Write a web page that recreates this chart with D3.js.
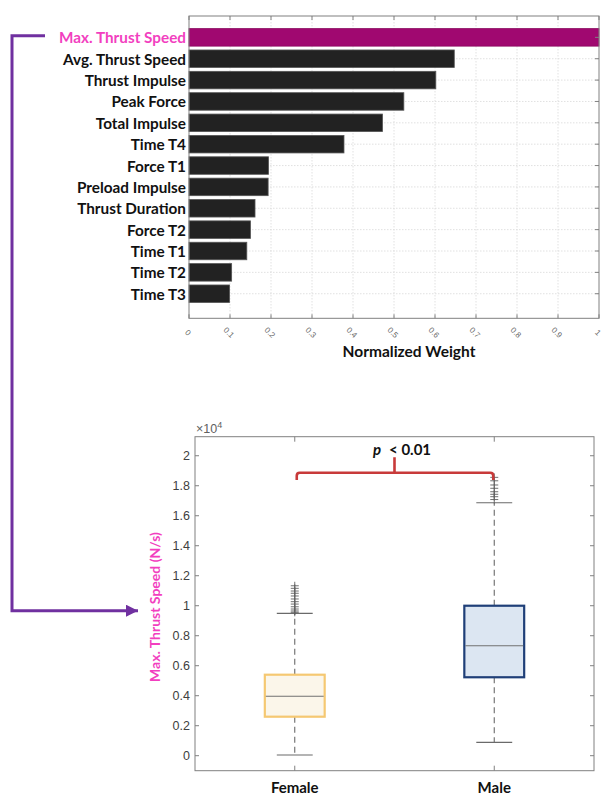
<!DOCTYPE html>
<html>
<head>
<meta charset="utf-8">
<script src="https://cdn.jsdelivr.net/npm/d3@7"></script>
<style>
  html, body { margin: 0; padding: 0; background: #fff; }
  svg { display: block; }
</style>
</head>
<body>
<svg id="chart" width="602" height="795"></svg>
<script>
// ---------- DATA ----------
const features = ["Max. Thrust Speed", "Avg. Thrust Speed", "Thrust Impulse", "Peak Force",
  "Total Impulse", "Time T4", "Force T1", "Preload Impulse", "Thrust Duration",
  "Force T2", "Time T1", "Time T2", "Time T3"];
const weights = [1.0, 0.647, 0.602, 0.524, 0.472, 0.378, 0.194, 0.193, 0.161, 0.150, 0.141, 0.104, 0.099];
const weightTicks = [0, 0.1, 0.2, 0.3, 0.4, 0.5, 0.6, 0.7, 0.8, 0.9, 1];
const weightTickLabels = ["0", "0.1", "0.2", "0.3", "0.4", "0.5", "0.6", "0.7", "0.8", "0.9", "1"];

const groups = ["Female", "Male"];
const whiskerLow = [0.005, 0.089];
const q1 = [0.26, 0.523];
const medians = [0.396, 0.733];
const q3 = [0.54, 1.0];
const whiskerHigh = [0.949, 1.687];
const femaleOutliers = [0.956, 0.965, 0.978, 0.993, 1.011, 1.027, 1.045, 1.065, 1.083, 1.098, 1.116, 1.133];
const maleOutliers = [1.708, 1.727, 1.743, 1.760, 1.783, 1.805, 1.833, 1.856];
const speedTicks = [0, 0.2, 0.4, 0.6, 0.8, 1, 1.2, 1.4, 1.6, 1.8, 2];
const speedTickLabels = ["0", "0.2", "0.4", "0.6", "0.8", "1", "1.2", "1.4", "1.6", "1.8", "2"];
const bracket = { level: 1.887, tip: 1.838, notch: 1.99 };

// ---------- SETUP ----------
const svg = d3.select("#chart");
const labelFont = "Lato, 'Open Sans', 'Noto Sans', sans-serif";
const axisFont = "'Liberation Sans', Arial, Helvetica, sans-serif";
const axisGray = "#808080";
const pink = "#f23fbf";
const purple = "#7030a0";

// ---------- TOP: horizontal bar chart ----------
const xW = d3.scaleLinear().domain([0, 1]).range([189, 599]);
const yPos = d3.scaleLinear().domain([-0.15, 14]).range([318.3, 16]);
const n = features.length;
const pos = i => n - i;
const barH = (yPos(0) - yPos(0.82));

const gTop = svg.append("g");
gTop.selectAll("line.vgrid").data(weightTicks.slice(1, -1)).join("line")
  .attr("x1", d => xW(d)).attr("x2", d => xW(d))
  .attr("y1", yPos(14)).attr("y2", yPos(-0.15))
  .attr("stroke", "#d9d9d9").attr("stroke-width", 0.8).attr("stroke-dasharray", "1.5,1.5");
gTop.selectAll("line.hgrid").data(features).join("line")
  .attr("x1", xW(0)).attr("x2", xW(1))
  .attr("y1", (d, i) => yPos(pos(i))).attr("y2", (d, i) => yPos(pos(i)))
  .attr("stroke", "#d9d9d9").attr("stroke-width", 0.8).attr("stroke-dasharray", "1.5,1.5");

gTop.selectAll("rect.bar").data(weights).join("rect")
  .attr("x", xW(0))
  .attr("y", (d, i) => yPos(pos(i)) - barH / 2)
  .attr("width", d => xW(d) - xW(0))
  .attr("height", barH)
  .attr("fill", (d, i) => i === 0 ? "#a00870" : "#222222")
  .attr("stroke", (d, i) => i === 0 ? "#8a0a60" : "#555")
  .attr("stroke-width", 0.8);

gTop.append("rect").attr("x", xW(0)).attr("y", yPos(14))
  .attr("width", xW(1) - xW(0)).attr("height", yPos(-0.15) - yPos(14))
  .attr("fill", "none").attr("stroke", axisGray).attr("stroke-width", 1);
gTop.selectAll("line.xtb").data(weightTicks).join("line")
  .attr("x1", d => xW(d)).attr("x2", d => xW(d))
  .attr("y1", yPos(-0.15)).attr("y2", yPos(-0.15) - 4)
  .attr("stroke", axisGray);
gTop.selectAll("line.xtt").data(weightTicks).join("line")
  .attr("x1", d => xW(d)).attr("x2", d => xW(d))
  .attr("y1", yPos(14)).attr("y2", yPos(14) + 4)
  .attr("stroke", axisGray);
gTop.selectAll("line.ytr").data(features).join("line")
  .attr("x1", xW(1)).attr("x2", xW(1) - 4)
  .attr("y1", (d, i) => yPos(pos(i))).attr("y2", (d, i) => yPos(pos(i)))
  .attr("stroke", axisGray);

gTop.selectAll("text.xtl").data(weightTicks).join("text")
  .attr("transform", d => `translate(${xW(d) - 1.5},${333}) rotate(45)`)
  .attr("text-anchor", "middle").attr("dominant-baseline", "middle")
  .attr("font-family", axisFont).attr("font-size", 8).attr("fill", "#666")
  .text((d, i) => weightTickLabels[i]);

gTop.selectAll("text.ylab").data(features).join("text")
  .attr("x", 186).attr("y", (d, i) => yPos(pos(i)))
  .attr("text-anchor", "end").attr("dominant-baseline", "central")
  .attr("font-family", labelFont).attr("font-weight", "bold").attr("font-size", 15.3)
  .attr("fill", (d, i) => i === 0 ? pink : "#111")
  .text(d => d);

gTop.append("text").attr("x", 409).attr("y", 357)
  .attr("text-anchor", "middle")
  .attr("font-family", labelFont).attr("font-weight", "bold").attr("font-size", 15.5)
  .attr("fill", "#111").text("Normalized Weight");

// ---------- BOTTOM: box plot ----------
const xG = d3.scaleLinear().domain([0.5, 2.5]).range([195, 594]);
const yS = d3.scaleLinear().domain([-0.1, 2.127]).range([770.7, 436.7]);
const boxW = xG(1.15) - xG(0.85);
const capW = xG(1.09) - xG(0.91);

const gBot = svg.append("g");
gBot.append("rect").attr("x", xG(0.5)).attr("y", yS(2.127))
  .attr("width", xG(2.5) - xG(0.5)).attr("height", yS(-0.1) - yS(2.127))
  .attr("fill", "none").attr("stroke", axisGray).attr("stroke-width", 1);

gBot.selectAll("line.ytl").data(speedTicks).join("line")
  .attr("x1", xG(0.5)).attr("x2", xG(0.5) + 4)
  .attr("y1", d => yS(d)).attr("y2", d => yS(d)).attr("stroke", axisGray);
gBot.selectAll("line.ytr").data(speedTicks).join("line")
  .attr("x1", xG(2.5)).attr("x2", xG(2.5) - 4)
  .attr("y1", d => yS(d)).attr("y2", d => yS(d)).attr("stroke", axisGray);
gBot.selectAll("line.xtb").data(groups).join("line")
  .attr("x1", (d, i) => xG(i + 1)).attr("x2", (d, i) => xG(i + 1))
  .attr("y1", yS(-0.1)).attr("y2", yS(-0.1) - 5).attr("stroke", axisGray);
gBot.selectAll("line.xtt").data(groups).join("line")
  .attr("x1", (d, i) => xG(i + 1)).attr("x2", (d, i) => xG(i + 1))
  .attr("y1", yS(2.127)).attr("y2", yS(2.127) + 5).attr("stroke", axisGray);

gBot.selectAll("text.ytl").data(speedTicks).join("text")
  .attr("x", 190).attr("y", d => yS(d))
  .attr("text-anchor", "end").attr("dominant-baseline", "central")
  .attr("font-family", axisFont).attr("font-size", 12.5).attr("fill", "#404040")
  .text((d, i) => speedTickLabels[i]);

const exp = gBot.append("text").attr("x", 196).attr("y", 433)
  .attr("font-family", axisFont).attr("font-size", 12.5).attr("fill", "#606060");
exp.append("tspan").text("\u00d710");
exp.append("tspan").attr("dy", -5).attr("font-size", 9).text("4");

groups.forEach((g, i) => {
  const cx = xG(i + 1);
  gBot.append("line").attr("x1", cx).attr("x2", cx)
    .attr("y1", yS(q3[i])).attr("y2", yS(whiskerHigh[i]))
    .attr("stroke", "#6a6a6a").attr("stroke-width", 1.1).attr("stroke-dasharray", "6,4");
  gBot.append("line").attr("x1", cx).attr("x2", cx)
    .attr("y1", yS(q1[i])).attr("y2", yS(whiskerLow[i]))
    .attr("stroke", "#6a6a6a").attr("stroke-width", 1.1).attr("stroke-dasharray", "6,4");
  [whiskerHigh[i], whiskerLow[i]].forEach(v => {
    gBot.append("line").attr("x1", cx - capW / 2).attr("x2", cx + capW / 2)
      .attr("y1", yS(v)).attr("y2", yS(v))
      .attr("stroke", "#6a6a6a").attr("stroke-width", 1.1);
  });
});

const boxFill = ["#fbf6ea", "#dce6f2"];
const boxStroke = ["#f5c872", "#1f3f78"];
gBot.selectAll("rect.box").data(groups).join("rect")
  .attr("x", (d, i) => xG(i + 1) - boxW / 2)
  .attr("y", (d, i) => yS(q3[i]))
  .attr("width", boxW)
  .attr("height", (d, i) => yS(q1[i]) - yS(q3[i]))
  .attr("fill", (d, i) => boxFill[i])
  .attr("stroke", (d, i) => boxStroke[i])
  .attr("stroke-width", 2.2);
gBot.selectAll("line.median").data(medians).join("line")
  .attr("x1", (d, i) => xG(i + 1) - boxW / 2 + 1).attr("x2", (d, i) => xG(i + 1) + boxW / 2 - 1)
  .attr("y1", d => yS(d)).attr("y2", d => yS(d))
  .attr("stroke", "#707070").attr("stroke-width", 1.1);

const outliers = [femaleOutliers, maleOutliers];
outliers.forEach((arr, i) => {
  const cx = xG(i + 1);
  arr.forEach(v => {
    const y = yS(v);
    gBot.append("path")
      .attr("d", `M${cx - 4},${y}H${cx + 4}M${cx},${y - 4}V${y + 4}`)
      .attr("stroke", "#606060").attr("stroke-width", 0.9).attr("fill", "none");
  });
});

const bl = xG(1) + 2, br = xG(2) - 1, bm = xG(1.5);
const r = 3;
gBot.append("path")
  .attr("d", `M${bl},${yS(bracket.tip)} V${yS(bracket.level) + r} Q${bl},${yS(bracket.level)} ${bl + r},${yS(bracket.level)}
              H${br - r} Q${br},${yS(bracket.level)} ${br},${yS(bracket.level) + r} V${yS(bracket.tip)}
              M${bm},${yS(bracket.level)} V${yS(bracket.notch)}`)
  .attr("fill", "none").attr("stroke", "#c83a3a").attr("stroke-width", 2.6);

const pt = gBot.append("text").attr("x", 402).attr("y", 455)
  .attr("text-anchor", "middle")
  .attr("font-family", labelFont).attr("font-weight", "bold").attr("font-size", 15).attr("fill", "#111");
pt.append("tspan").attr("font-style", "italic").text("p");
pt.append("tspan").attr("dx", 8).text("< 0.01");

gBot.selectAll("text.xl").data(groups).join("text")
  .attr("x", (d, i) => xG(i + 1)).attr("y", 793)
  .attr("text-anchor", "middle")
  .attr("font-family", labelFont).attr("font-weight", "bold").attr("font-size", 15)
  .attr("fill", "#111").text(d => d);

gBot.append("text")
  .attr("transform", `translate(160,607) rotate(-90)`)
  .attr("text-anchor", "middle")
  .attr("font-family", labelFont).attr("font-weight", "bold").attr("font-size", 14)
  .attr("fill", pink).text("Max. Thrust Speed (N/s)");

// ---------- connector arrow ----------
svg.append("defs").append("marker")
  .attr("id", "arrow").attr("viewBox", "0 0 10 10")
  .attr("refX", 10).attr("refY", 5)
  .attr("markerWidth", 4).attr("markerHeight", 4)
  .attr("markerUnits", "strokeWidth")
  .attr("orient", "auto")
  .append("path").attr("d", "M0,0 L10,5 L0,10 z").attr("fill", purple);

svg.append("path")
  .attr("d", `M45,${yPos(pos(0)) - 1.5} H12 V610.7 H138`)
  .attr("fill", "none").attr("stroke", purple).attr("stroke-width", 3)
  .attr("marker-end", "url(#arrow)");
</script>
</body>
</html>
